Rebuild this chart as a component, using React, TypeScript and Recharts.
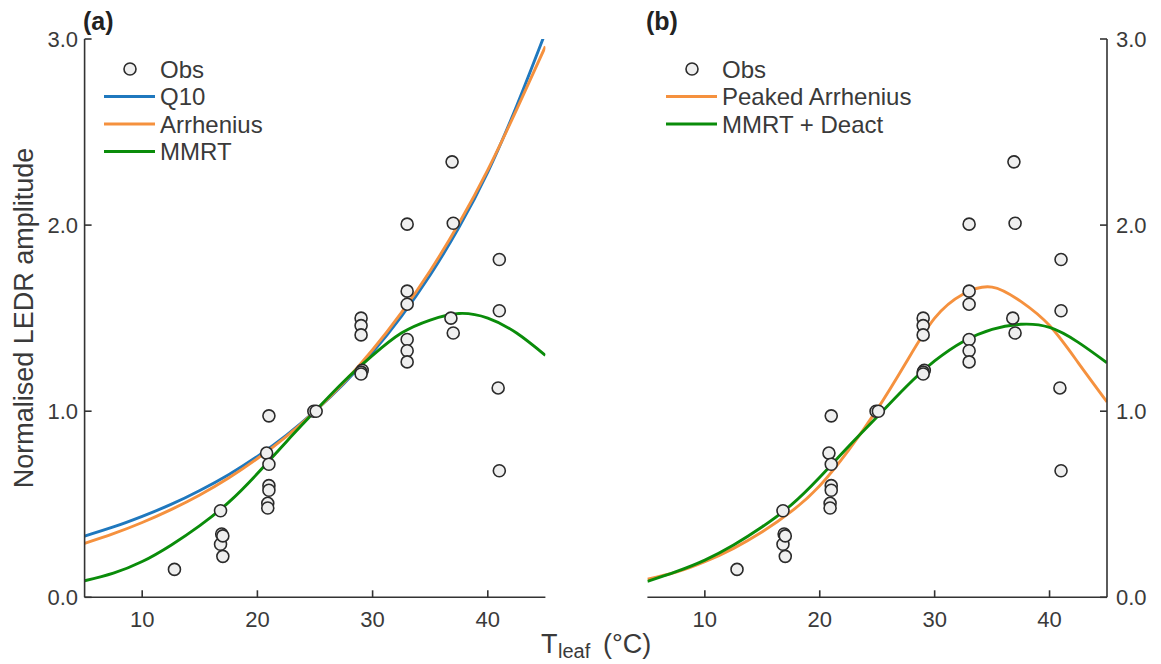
import React from 'react';
import { ComposedChart, Line, Scatter, XAxis, YAxis } from 'recharts';

// ---------- data ----------
const tGrid = [5, 7.5, 10, 12.5, 15, 17.5, 20, 22.5, 25, 27.5, 30, 32.5, 35, 37.5, 40, 42.5, 45];

// panel (a)
const q10Values = [0.329, 0.378, 0.435, 0.499, 0.574, 0.659, 0.757, 0.870, 1.0, 1.147, 1.316, 1.510, 1.732, 1.988, 2.285, 2.64, 3.035];
const arrheniusValues = [0.290, 0.342, 0.402, 0.471, 0.550, 0.641, 0.746, 0.864, 1.0, 1.154, 1.330, 1.530, 1.755, 2.010, 2.297, 2.62, 2.960];
const mmrtValues = [0.089, 0.13, 0.192, 0.28, 0.385, 0.51, 0.665, 0.835, 1.0, 1.16, 1.30, 1.42, 1.49, 1.525, 1.50, 1.42, 1.30];

// panel (b)
const peakedArrheniusValues = [0.098, 0.135, 0.191, 0.263, 0.352, 0.46, 0.60, 0.79, 1.01, 1.26, 1.50, 1.63, 1.667, 1.59, 1.46, 1.26, 1.05];
const mmrtDeactValues = [0.086, 0.138, 0.20, 0.281, 0.379, 0.495, 0.645, 0.81, 0.97, 1.13, 1.27, 1.375, 1.44, 1.467, 1.45, 1.37, 1.26];

// observations (same in both panels)
const obsT = [12.8, 16.8, 16.8, 16.9, 17.0, 17.0, 20.8, 21.0, 21.0, 21.0, 21.0, 20.9, 20.9, 24.9, 25.1,
  29.0, 29.0, 29.0, 29.1, 29.0, 29.0, 33.0, 33.0, 33.0, 33.0, 33.0, 33.0, 36.9, 37.0, 36.8, 37.0,
  41.0, 41.0, 40.9, 41.0];
const obsV = [0.15, 0.465, 0.285, 0.34, 0.33, 0.22, 0.775, 0.975, 0.715, 0.60, 0.575, 0.505, 0.48, 1.0, 1.0,
  1.50, 1.46, 1.41, 1.22, 1.21, 1.20, 2.005, 1.645, 1.575, 1.385, 1.325, 1.265, 2.34, 2.01, 1.50, 1.42,
  1.815, 1.54, 1.125, 0.68];

const xTicks = [10, 20, 30, 40];
const yTicks = [0, 1, 2, 3];
const xDomain = [5, 45];
const yDomain = [0, 3];

const COLORS = { blue: '#1f78be', orange: '#f5913e', green: '#0a8c0a', frame: '#333333', text: '#3a3a3a' };
const FONT = '"Liberation Sans", Arial, Helvetica, sans-serif';

const toPoints = (xs: number[], ys: number[]) => xs.map((x, i) => ({ x, y: ys[i] }));
const obsData = toPoints(obsT, obsV);

type SeriesDef = { name: string; values: number[]; color: string };

const panelA: SeriesDef[] = [
  { name: 'Q10', values: q10Values, color: COLORS.blue },
  { name: 'Arrhenius', values: arrheniusValues, color: COLORS.orange },
  { name: 'MMRT', values: mmrtValues, color: COLORS.green },
];
const panelB: SeriesDef[] = [
  { name: 'Peaked Arrhenius', values: peakedArrheniusValues, color: COLORS.orange },
  { name: 'MMRT + Deact', values: mmrtDeactValues, color: COLORS.green },
];

const ObsMarker = (props: any) => {
  const { cx, cy } = props;
  if (cx == null || cy == null) return <g />;
  return <circle cx={cx} cy={cy} r={6} fill="#efefef" stroke="#2b2b2b" strokeWidth={1.6} />;
};

const axisLine = { stroke: COLORS.frame, strokeWidth: 1.6 };
const tickStyle = { fill: COLORS.text, fontSize: 22, fontFamily: FONT };

function Panel(props: {
  left: number; width: number; leftW: number; rightW: number; marginLeft: number; marginRight: number;
  labelsLeft: boolean; series: SeriesDef[];
}) {
  const { left, width, leftW, rightW, marginLeft, marginRight, labelsLeft, series } = props;
  const fmt = (v: number) => v.toFixed(1);
  const none = () => '';
  return (
    <div style={{ position: 'absolute', left, top: 0 }}>
      <ComposedChart width={width} height={664} margin={{ top: 39, right: marginRight, bottom: 26.7, left: marginLeft }}>
        <XAxis xAxisId="b" type="number" dataKey="x" domain={xDomain} ticks={xTicks} allowDataOverflow interval={0}
          height={40} tickSize={-7} tickMargin={21} axisLine={axisLine} tickLine={axisLine} tick={tickStyle} />
        <XAxis xAxisId="t" orientation="top" type="number" dataKey="x" domain={xDomain} ticks={xTicks} allowDataOverflow interval={0}
          height={0} tickSize={-7} tickFormatter={none} axisLine={axisLine} tickLine={axisLine} tick={tickStyle} />
        <YAxis yAxisId="l" orientation="left" type="number" dataKey="y" domain={yDomain} ticks={yTicks} allowDataOverflow interval={0}
          width={leftW} tickSize={-7} tickMargin={labelsLeft ? 13.5 : 0} tickFormatter={labelsLeft ? fmt : none}
          axisLine={axisLine} tickLine={axisLine} tick={tickStyle} />
        <YAxis yAxisId="r" orientation="right" type="number" dataKey="y" domain={yDomain} ticks={yTicks} allowDataOverflow interval={0}
          width={rightW} tickSize={-7} tickMargin={labelsLeft ? 0 : 16} tickFormatter={labelsLeft ? none : fmt}
          axisLine={axisLine} tickLine={axisLine} tick={tickStyle} />
        <Scatter xAxisId="b" yAxisId="l" data={obsData} dataKey="y" shape={ObsMarker} isAnimationActive={false} />
        {series.map((s) => (
          <Line key={s.name} xAxisId="b" yAxisId="l" data={toPoints(tGrid, s.values)} dataKey="y" type="natural"
            stroke={s.color} strokeWidth={2.9} dot={false} activeDot={false} isAnimationActive={false} />
        ))}
      </ComposedChart>
    </div>
  );
}

function LegendBlock(props: { x: number; y: number; series: SeriesDef[] }) {
  const { x, y, series } = props;
  const rowH = 27.5;
  const textX = x + 56;
  return (
    <g fontFamily={FONT} fontSize={24} fill={COLORS.text}>
      <circle cx={x + 26} cy={y} r={6} fill="#efefef" stroke="#2b2b2b" strokeWidth={1.6} />
      <text x={textX} y={y + 8.5}>Obs</text>
      {series.map((s, i) => {
        const cy = y + rowH * (i + 1);
        return (
          <g key={s.name}>
            <line x1={x} x2={x + 51} y1={cy} y2={cy} stroke={s.color} strokeWidth={2.9} />
            <text x={textX} y={cy + 8.5}>{s.name}</text>
          </g>
        );
      })}
    </g>
  );
}

export default function App() {
  return (
    <div style={{ position: 'absolute', left: 0, top: 0, width: 1161, height: 664, background: '#ffffff', overflow: 'hidden' }}>
      <Panel left={0} width={560} leftW={84.6} rightW={0} marginLeft={0} marginRight={14.6} labelsLeft series={panelA} />
      <Panel left={580} width={581} leftW={0} rightW={54} marginLeft={67.4} marginRight={0} labelsLeft={false} series={panelB} />
      <svg width={1161} height={664} style={{ position: 'absolute', left: 0, top: 0, pointerEvents: 'none' }}>
        <text x={83} y={30} fontFamily={FONT} fontSize={25} fontWeight="bold" fill="#222">(a)</text>
        <text x={646} y={30} fontFamily={FONT} fontSize={25} fontWeight="bold" fill="#222">(b)</text>
        <LegendBlock x={104} y={69} series={panelA} />
        <LegendBlock x={666} y={69} series={panelB} />
        <text transform="translate(33,318) rotate(-90)" textAnchor="middle" fontFamily={FONT} fontSize={27} fill={COLORS.text}>
          Normalised LEDR amplitude
        </text>
        <text fontFamily={FONT} fill={COLORS.text}>
          <tspan x={541} y={653} fontSize={27}>T</tspan>
          <tspan x={558} y={658} fontSize={20}>leaf</tspan>
          <tspan x={603} y={653} fontSize={27}>(°C)</tspan>
        </text>
      </svg>
    </div>
  );
}
